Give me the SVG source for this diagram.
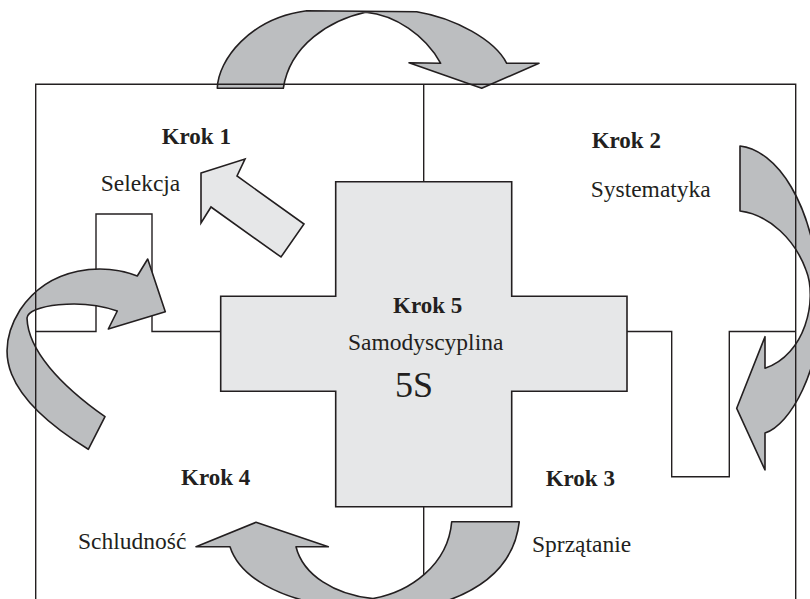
<svg xmlns="http://www.w3.org/2000/svg" width="810" height="599" viewBox="0 0 810 599">
<style>
.ln{fill:none;stroke:#231f20;stroke-width:1.4}
.arr{fill:#bcbec0;stroke:#231f20;stroke-width:1.6;stroke-linejoin:round}
.light{fill:#e6e7e8;stroke:#231f20;stroke-width:1.6;stroke-linejoin:miter}
.t{font-family:"Liberation Serif","Times New Roman",serif;font-size:23.5px;fill:#231f20}
.b{font-family:"Liberation Serif","Times New Roman",serif;font-size:23px;font-weight:bold;fill:#231f20}
</style>
<rect width="810" height="599" fill="#ffffff"/>
<g id="connectors">
<path class="ln" d="M36,331.5 H96 V214 H152 V331.5 H221"/>
<path class="ln" d="M627,331.5 H671.7 V476.7 H729.3 V331.5 H796"/>
<path class="ln" d="M423.7,84.3 V182"/>
<path class="ln" d="M423.7,506.7 V599"/>
</g>
<g id="cycle-arrows">
<path id="arrow-1-2" class="arr" d="M217.3,88.3 C218,60 250,18 306.7,10.7 L416.7,11.7 C455,18 495,40 506.7,63.3 L539,63.3 L481.7,88.3 L409,62.7 L440.7,63.3 C425,35 395,15 365.7,12.3 C330,20 290,45 283.3,88.3 Z"/>
<path id="arrow-2-3" class="arr" d="M740,146 C775,150 815,200 820,300 C822,370 790,425 765,433 L765,470 L736.7,408.3 L765,336.7 L765,368.3 C805,355 818,300 806,270 C795,240 770,215 740,211 Z"/>
<path id="arrow-3-4" class="arr" d="M451.7,521.7 L519.3,521.7 C515,560 490,590 430,606 L330,606 C280,598 240,578 230,546.7 L196,546.7 L256,522.3 L328.3,546.7 L296,546.7 C303,575 335,595 373,598.5 C410,592 448,565 451.7,521.7 Z"/>
<path id="arrow-4-1" class="arr" d="M117.3,311 L108.3,329 L165.3,311.7 L147.7,259 L137.3,276 C105,263 50,265 20,310 C-5,350 0,395 88.3,449.3 L105,416.7 C60,385 28,350 27,318 C28,305 80,298 117.3,311 Z"/>
</g>
<g id="frame">
<path class="ln" d="M35.7,599 V84.3 H795.7 V599"/>
</g>
<g id="krok1">
<path id="arrow-5-1" class="light" d="M201,173 L245,159 L237,176 L304,224 L281,257 L211,207 L201,223 Z"/>
<text class="b" x="161.7" y="144.3">Krok 1</text>
<text class="t" x="100.7" y="190.5">Selekcja</text>
</g>
<g id="krok2">
<text class="b" x="591.7" y="147.5">Krok 2</text>
<text class="t" x="590.7" y="196.5">Systematyka</text>
</g>
<g id="krok5">
<path class="light" d="M335.7,181.7 H511.7 V296.3 H627 V391.3 H511.7 V506.7 H335.7 V391.3 H220.7 V296.3 H335.7 Z"/>
<text class="b" x="393" y="312.7">Krok 5</text>
<text class="t" x="348" y="350">Samodyscyplina</text>
<text class="t" x="395" y="396.7" style="font-size:36px">5S</text>
</g>
<g id="krok4">
<text class="b" x="181" y="485">Krok 4</text>
<text class="t" x="78" y="549">Schludność</text>
</g>
<g id="krok3">
<text class="b" x="545.7" y="486">Krok 3</text>
<text class="t" x="532" y="552">Sprzątanie</text>
</g>
</svg>
